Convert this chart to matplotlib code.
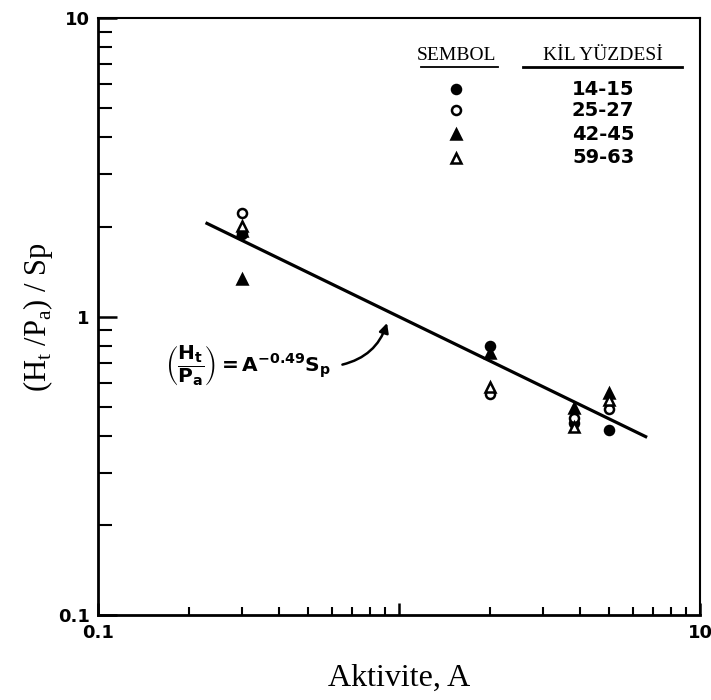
import matplotlib
matplotlib.use("Agg")
import matplotlib.pyplot as plt
import numpy as np

# veriler
kil_yuzdesi = ["14 - 15", "25 - 27", "42 - 45", "59 - 63"]
markers = ["o", "o", "^", "^"]
dolu = [True, False, True, False]

A_1415 = [0.3, 2.0, 3.8, 5.0]
y_1415 = [1.89, 0.80, 0.44, 0.417]
A_2527 = [0.3, 2.0, 3.8, 5.0]
y_2527 = [2.23, 0.553, 0.457, 0.49]
A_4245 = [0.3, 0.3, 2.0, 3.8, 5.0]
y_4245 = [1.94, 1.34, 0.757, 0.496, 0.554]
A_5963 = [0.3, 2.0, 3.8, 5.0]
y_5963 = [2.01, 0.58, 0.428, 0.525]

seriler = [(A_1415, y_1415), (A_2527, y_2527), (A_4245, y_4245), (A_5963, y_5963)]

# fit cizgisi (Ht/Pa) = A^-0.49 Sp
us = -0.49
A_cizgi = np.array([0.23, 6.6])

plt.rcParams['mathtext.fontset'] = 'dejavusans'
plt.rcParams['mathtext.default'] = 'bf'

fig = plt.figure(figsize=(7.11, 7.0), dpi=100)
ax = fig.add_axes([0.138, 0.121, 0.8465, 0.853])

ax.plot(A_cizgi, A_cizgi ** us, color='black', lw=2.3, zorder=2)

for (x, y), m, d in zip(seriler, markers, dolu):
    ms = 6.5 if m == 'o' else 7.5
    ax.plot(x, y, ls='none', marker=m, ms=ms, mfc='black' if d else 'white',
            mec='black', mew=1.8, zorder=3)

ax.set_xscale('log')
ax.set_yscale('log')
ax.set_xlim(0.1, 10)
ax.set_ylim(0.1, 10)

ax.set_xticks([0.1, 1, 10])
ax.set_xticklabels(['0.1', '', '10'])
ax.set_yticks([0.1, 1, 10])
ax.set_yticklabels(['0.1', '1', '10'])

etiket_font = dict(fontsize=14, fontweight='bold', family='DejaVu Sans')
for lbl in ax.get_xticklabels() + ax.get_yticklabels():
    lbl.set_fontsize(13)
    lbl.set_fontweight('bold')

ax.tick_params(which='major', direction='in', length=14, width=1.8, top=False, right=False, pad=6)
ax.tick_params(axis='x', which='major', length=9)
ax.tick_params(axis='y', which='minor', direction='in', length=10, width=1.5, right=False)
ax.tick_params(axis='x', which='minor', direction='in', length=6, width=1.5, top=False)
ax.yaxis.set_minor_formatter(matplotlib.ticker.NullFormatter())
ax.xaxis.set_minor_formatter(matplotlib.ticker.NullFormatter())

for s in ['left', 'bottom']:
    ax.spines[s].set_linewidth(2.0)
for s in ['top', 'right']:
    ax.spines[s].set_linewidth(1.5)

ax.set_xlabel('Aktivite, A', family='Liberation Serif', fontsize=23, labelpad=16)
ax.set_ylabel(r'(H$_\mathregular{t}$ /P$_\mathregular{a}$) / Sp', family='Liberation Serif',
              fontsize=22, labelpad=2)

# denklem ve ok
ax.text(0.111, 0.419, r'$\left(\dfrac{H_t}{P_a}\right) = A^{-0.49}S_p$', transform=ax.transAxes,
        fontsize=14.5, ha='left', va='center')
ax.annotate('', xy=(0.918, 0.973), xytext=(0.635, 0.688),
            arrowprops=dict(arrowstyle='-|>', color='black', lw=1.8,
                            connectionstyle='arc3,rad=0.3', mutation_scale=14))

# lejant (tablo seklinde)
ax.text(0.595, 0.938, 'SEMBOL', transform=ax.transAxes, family='Liberation Serif',
        fontsize=14, ha='center', va='center')
ax.plot([0.536, 0.664], [0.918, 0.918], color='black', lw=1.3, transform=ax.transAxes, clip_on=False)
ax.text(0.839, 0.938, 'KİL YÜZDESİ', transform=ax.transAxes, family='Liberation Serif',
        fontsize=14, ha='center', va='center')
ax.plot([0.706, 0.970], [0.918, 0.918], color='black', lw=2.0, transform=ax.transAxes, clip_on=False)

satir_y = [0.881, 0.846, 0.806, 0.766]
for k, (lbl, m, d) in enumerate(zip(kil_yuzdesi, markers, dolu)):
    ms = 6.5 if m == 'o' else 7.5
    ax.plot([0.595], [satir_y[k]], ls='none', marker=m, ms=ms, mfc='black' if d else 'white',
            mec='black', mew=1.8, transform=ax.transAxes)
    ax.text(0.839, satir_y[k], lbl.replace(' - ', '-'), transform=ax.transAxes,
            ha='center', va='center', **etiket_font)

fig.savefig('out.png', dpi=100)
